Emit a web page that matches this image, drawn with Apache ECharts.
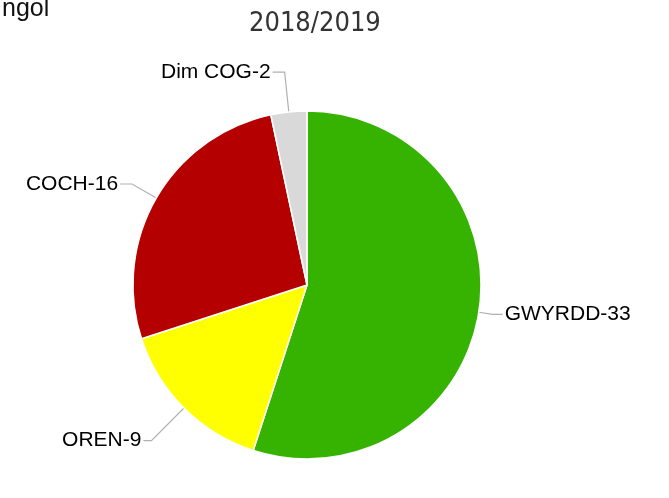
<!DOCTYPE html>
<html>
<head>
<meta charset="utf-8">
<script src="https://cdn.jsdelivr.net/npm/echarts@6/dist/echarts.min.js"></script>
<style>
  html, body { margin: 0; padding: 0; background: #fff; }
  #chart { width: 669px; height: 498px; }
</style>
</head>
<body>
<div id="chart"></div>
<script>
// data
const categories = ['GWYRDD', 'OREN', 'COCH', 'Dim COG'];
const values = [33, 9, 16, 2];
const colours = ['#35b300', '#ffff00', '#b50000', '#d9d9d9'];
// label line lengths per slice [radial, horizontal]
const lineLengths = [[14, 10], [46, 8], [28, 12], [40, 12]];

const chart = echarts.init(document.getElementById('chart'));

const pieData = categories.map((name, i) => ({
  name: name,
  value: values[i],
  itemStyle: { color: colours[i] },
  labelLine: { length: lineLengths[i][0], length2: lineLengths[i][1] }
}));

chart.setOption({
  animation: false,
  title: [
    {
      text: 'ngol',
      left: -3,
      top: -8,
      textStyle: { fontFamily: 'Liberation Sans', fontSize: 25, fontWeight: 'normal', color: '#111' }
    },
    {
      text: '2018/2019',
      left: 244,
      top: 5,
      textStyle: { fontFamily: 'DejaVu Sans Condensed', fontSize: 27, fontWeight: 'normal', color: '#333' }
    }
  ],
  series: [{
    type: 'pie',
    center: [307, 285],
    radius: 174,
    startAngle: 90,
    clockwise: true,
    data: pieData,
    itemStyle: { borderColor: '#fff', borderWidth: 1.5 },
    label: {
      formatter: '{b}-{c}',
      fontFamily: 'Liberation Sans',
      fontSize: 21,
      color: '#000',
      distanceToLabelLine: 2
    },
    labelLine: {
      lineStyle: { color: '#b0b0b0', width: 1.2 }
    },
    emphasis: { disabled: true }
  }]
});
</script>
</body>
</html>
